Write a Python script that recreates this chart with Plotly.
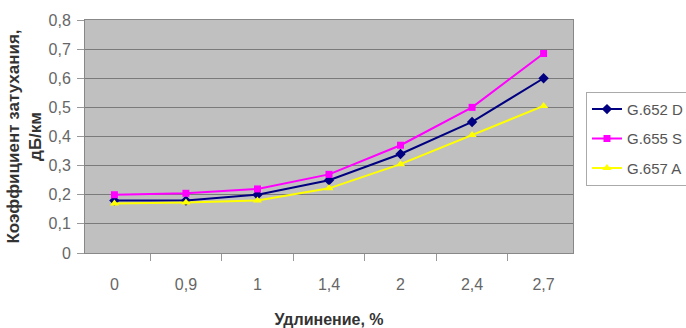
import plotly.graph_objects as go

categories = ["0", "0,9", "1", "1,4", "2", "2,4", "2,7"]
g652d = [0.18, 0.18, 0.20, 0.25, 0.34, 0.45, 0.60]
g655s = [0.20, 0.205, 0.22, 0.27, 0.37, 0.50, 0.685]
g657a = [0.17, 0.173, 0.18, 0.222, 0.305, 0.405, 0.505]
y_ticks = [0, 0.1, 0.2, 0.3, 0.4, 0.5, 0.6, 0.7, 0.8]
y_tick_text = ["0", "0,1", "0,2", "0,3", "0,4", "0,5", "0,6", "0,7", "0,8"]

fig = go.Figure()
fig.add_trace(go.Scatter(x=categories, y=g652d, name="G.652 D", mode="lines+markers",
                         legendgroup="a",
                         line=dict(color="#000080", width=2),
                         marker=dict(symbol="diamond", size=8, color="#000080")))
fig.add_trace(go.Scatter(x=categories, y=g655s, name="G.655 S", mode="lines+markers",
                         legendgroup="b",
                         line=dict(color="#FF00FF", width=2),
                         marker=dict(symbol="square", size=7, color="#FF00FF")))
fig.add_trace(go.Scatter(x=categories, y=g657a, name="G.657 A", mode="lines+markers",
                         legendgroup="c",
                         line=dict(color="#FFFF00", width=2),
                         marker=dict(symbol="triangle-up", size=8, color="#FFFF00")))

fig.update_layout(
    width=686, height=328,
    margin=dict(l=85, r=113, t=20, b=75, autoexpand=False),
    paper_bgcolor="white",
    plot_bgcolor="#C0C0C0",
    separators=", ",
    font=dict(family="Arial, Liberation Sans, sans-serif", size=16, color="#666666"),
    showlegend=True,
    legend=dict(x=1.0266, y=0.49, xanchor="left", yanchor="middle",
                bgcolor="white", bordercolor="#aaaaaa", borderwidth=1,
                font=dict(size=15, color="#555555"), tracegroupgap=7,
                itemwidth=30),
    xaxis=dict(type="category", tickson="boundaries", ticks="outside", ticklen=7,
               tickcolor="#999999", showgrid=False, showline=True, linecolor="#888888",
               mirror=True, linewidth=1, ticklabelstandoff=17,
               title=dict(text="<b>Удлинение, %</b>", font=dict(size=16, color="#333333"), standoff=22),
               tickfont=dict(size=16, color="#666666")),
    yaxis=dict(range=[0, 0.8], tickvals=y_ticks, ticktext=y_tick_text, ticks="outside", ticklen=7,
               tickcolor="#999999", showgrid=True, gridcolor="#7a7a7a", gridwidth=1.3,
               showline=True, linecolor="#888888", mirror=True, linewidth=1, zeroline=False,
               ticklabelstandoff=3,
               title=dict(text="<b>Коэффициент затухания,<br>дБ/км</b>",
                          font=dict(size=17, color="#333333"), standoff=2),
               tickfont=dict(size=16, color="#666666")),
)

fig.write_html("out.html")
